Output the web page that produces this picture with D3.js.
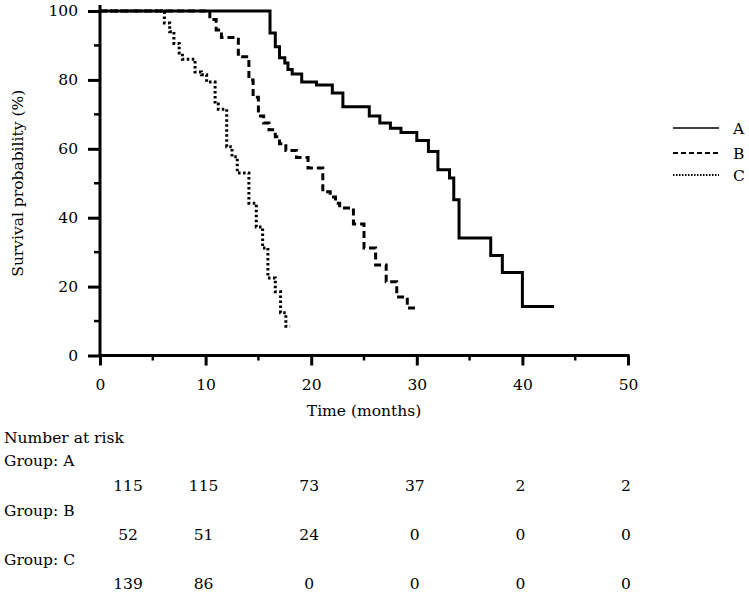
<!DOCTYPE html>
<html><head><meta charset="utf-8">
<script src="https://cdn.jsdelivr.net/npm/d3@7"></script>
<style>body{margin:0;background:#fff}svg{display:block}text{font-family:"DejaVu Serif",serif;fill:#000}</style>
</head><body><svg id="c" width="749" height="592"></svg>
<script>
// Step curve data: time (months) of each step and survival (%) after it
const timesA = [0, 16.1, 16.6, 17.0, 17.5, 17.8, 18.2, 19.1, 20.5, 22.0, 23.0, 25.5, 26.5, 27.5, 28.5, 30.0, 31.1, 32.0, 33.1, 33.5, 34.0, 37.0, 38.1, 40.0, 43.0];
const survA  = [100, 93.6, 89.6, 86.4, 84.9, 83.0, 81.7, 79.4, 78.5, 76.2, 72.2, 69.5, 67.5, 66.0, 64.7, 62.4, 59.2, 53.9, 51.5, 45.2, 34.1, 29.0, 24.1, 14.2, 14.2];
const timesB = [0, 10.4, 11.0, 11.5, 13.1, 14.1, 14.5, 15.0, 15.5, 16.0, 16.6, 17.0, 17.6, 18.6, 19.7, 21.1, 21.8, 22.3, 22.7, 24.0, 25.0, 26.1, 27.1, 28.1, 29.1, 30.0];
const survB  = [100, 97.5, 94.5, 92.3, 86.7, 80.0, 75.0, 69.5, 67.5, 65.5, 63.5, 61.5, 59.5, 57.5, 54.4, 47.5, 46.0, 44.2, 42.8, 38.2, 31.2, 26.3, 21.4, 17.0, 13.8, 13.8];
const timesC = [0, 6.1, 6.6, 7.0, 7.5, 7.8, 9.0, 9.6, 10.1, 10.9, 11.2, 12.0, 12.5, 13.0, 14.1, 14.8, 15.4, 15.9, 16.6, 17.1, 17.6, 18.0];
const survC  = [100, 96.5, 94.0, 90.6, 87.8, 86.0, 82.3, 81.5, 79.4, 73.0, 71.5, 60.6, 57.7, 53.0, 44.2, 37.3, 31.2, 22.5, 18.5, 12.4, 8.5, 8.5];
const groups = ["A", "B", "C"];
const xTicks = [0, 10, 20, 30, 40, 50];
const yTicks = [0, 20, 40, 60, 80, 100];
const riskA = [115, 115, 73, 37, 2, 2];
const riskB = [52, 51, 24, 0, 0, 0];
const riskC = [139, 86, 0, 0, 0, 0];

const FS = 15.5;
const svg = d3.select("#c");
const x = d3.scaleLinear().domain([0, 50]).range([100, 628]);
const y = d3.scaleLinear().domain([0, 100]).range([355.5, 11]);
const dashes = ["none", "7,4", "2.5,2.5"];

// axes
const gx = svg.append("g").attr("transform", `translate(0,${y(0)})`)
  .call(d3.axisBottom(x).tickValues(xTicks).tickSize(10).tickPadding(13));
gx.selectAll("line").attr("stroke-width", 3);
gx.select(".domain").remove();
gx.selectAll("text").attr("font-size", FS).attr("font-family", "DejaVu Serif");
gx.selectAll(".minor").data([5, 15, 25, 35, 45]).enter().append("line")
  .attr("x1", d => x(d)).attr("x2", d => x(d)).attr("y1", 0).attr("y2", 5)
  .attr("stroke", "#000").attr("stroke-width", 2.5);
gx.append("line").attr("x1", x(0) - 1.5).attr("x2", x(50) + 1.5).attr("stroke", "#000").attr("stroke-width", 3);

const gy = svg.append("g").attr("transform", `translate(${x(0)},0)`)
  .call(d3.axisLeft(y).tickValues(yTicks).tickSize(12).tickPadding(10));
gy.selectAll("line").attr("stroke-width", 3);
gy.select(".domain").remove();
gy.selectAll("text").attr("font-size", FS).attr("font-family", "DejaVu Serif");
gy.selectAll(".minor").data([10, 30, 50, 70, 90]).enter().append("line")
  .attr("y1", d => y(d)).attr("y2", d => y(d)).attr("x1", 0).attr("x2", -6)
  .attr("stroke", "#000").attr("stroke-width", 2.5);
gy.append("line").attr("y1", y(0) + 1.5).attr("y2", 5).attr("stroke", "#000").attr("stroke-width", 3);

svg.append("text").attr("x", x(25)).attr("y", 416).attr("text-anchor", "middle").attr("font-size", FS).text("Time (months)");
svg.append("text").attr("transform", `translate(23,${y(50)}) rotate(-90)`).attr("text-anchor", "middle").attr("font-size", FS).text("Survival probability (%)");

// curves
const line = d3.line().x(d => x(d[0])).y(d => y(d[1])).curve(d3.curveStepAfter);
const series = [d3.zip(timesA, survA), d3.zip(timesB, survB), d3.zip(timesC, survC)];
series.forEach((s, i) => {
  svg.append("path").attr("d", line(s)).attr("fill", "none").attr("stroke", "#000")
    .attr("stroke-width", 3).attr("stroke-dasharray", dashes[i]);
});

// legend
const legY = [128, 153, 175];
groups.forEach((g, i) => {
  svg.append("line").attr("x1", 673).attr("x2", 719).attr("y1", legY[i]).attr("y2", legY[i])
    .attr("stroke", "#000").attr("stroke-width", i === 0 ? 1.5 : 2).attr("stroke-dasharray", i === 0 ? "none" : (i === 1 ? "5,3" : "1.5,1.5"));
  svg.append("text").attr("x", 733).attr("y", legY[i] + 5.5).attr("font-size", FS).text(g);
});

// risk table
svg.append("text").attr("x", 4).attr("y", 443).attr("font-size", FS).text("Number at risk");
const riskRows = [riskA, riskB, riskC];
const colX = xTicks.map((t, i) => i === 0 ? x(t) + 28 : x(t) - 2);
const groupY = [466, 516, 565];
const rowY = [491, 540, 589];
riskRows.forEach((r, i) => {
  svg.append("text").attr("x", 4).attr("y", groupY[i]).attr("font-size", FS).text("Group: " + groups[i]);
  r.forEach((v, j) => {
    svg.append("text").attr("x", colX[j]).attr("y", rowY[i]).attr("text-anchor", "middle").attr("font-size", FS).text(v);
  });
});
</script></body></html>
